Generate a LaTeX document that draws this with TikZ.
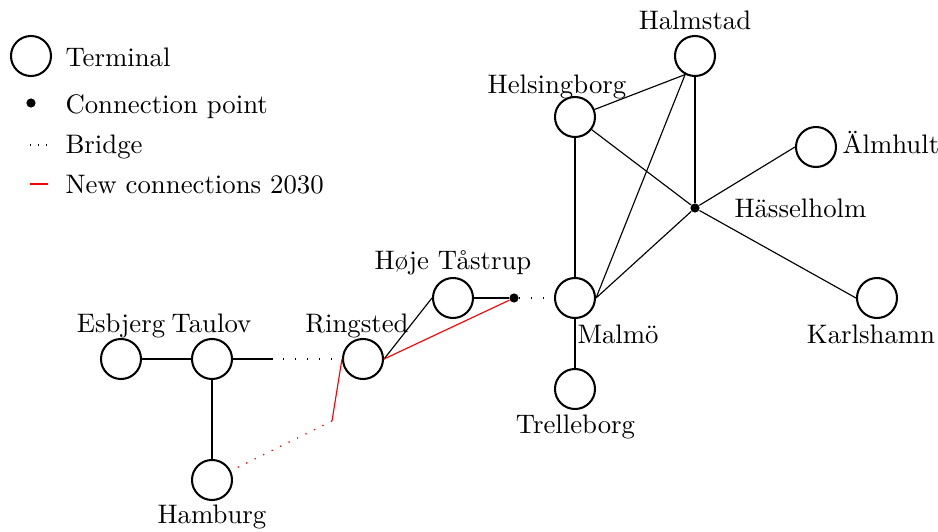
\documentclass[tikz,border=0pt]{standalone}
\usetikzlibrary{calc}
\begin{document}
\begin{tikzpicture}[x=0.3922pt,y=-0.3922pt,
  terminal/.style={circle,draw,line width=0.8pt,minimum size=15.7pt,inner sep=0pt},
  cpoint/.style={circle,fill,inner sep=0pt,minimum size=3.6pt},
  lbl/.style={anchor=base,inner sep=0pt,font=\fontsize{10.5pt}{12.6pt}\selectfont},
  lblw/.style={anchor=base west,inner sep=0pt,font=\fontsize{10.5pt}{12.6pt}\selectfont},
  conn/.style={line width=0.45pt},
  bridge/.style={line width=0.5pt,dash pattern=on 0.5pt off 4.2pt},
  rbridge/.style={line width=0.5pt,red,dash pattern=on 0.5pt off 3.2pt},
  newc/.style={line width=0.45pt,red}]
\useasboundingbox (0,0) rectangle (938,532);
% legend
\node[terminal] (lt) at (31,56) {};
\node[lblw] (ltt) at (65,66) {Terminal};
\node[cpoint] (lc) at (31,103) {};
\node[lblw] (lct) at (65,113) {Connection point};
\coordinate (lb1) at (30,145);
\coordinate (lb2) at (48,145);
\draw[bridge,dash pattern=on 0.5pt off 2.6pt] (lb1) -- (lb2);
\node[lblw] (lbt) at (65,153) {Bridge};
\coordinate (ln1) at (30,184);
\coordinate (ln2) at (48,184);
\draw[newc] (ln1) -- (ln2);
\node[lblw] (lnt) at (65,193) {New connections 2030};
% nodes
\node[terminal] (esb) at (121,359) {};
\node[terminal] (tau) at (212,359) {};
\node[terminal] (rin) at (363,359) {};
\node[terminal] (ham) at (212,480) {};
\node[terminal] (hoj) at (453,298) {};
\node[cpoint] (cp) at (514,298) {};
\node[terminal] (mal) at (575,298) {};
\node[terminal] (tre) at (575,389) {};
\node[terminal] (hel) at (575,117) {};
\node[terminal] (hal) at (695,56) {};
\node[cpoint] (has) at (695,208) {};
\node[terminal] (alm) at (816,147) {};
\node[terminal] (kar) at (877,298) {};
% labels
\node[lbl] at (121,332) {Esbjerg};
\node[lbl] at (211.5,332) {Taulov};
\node[lbl] at (357,332) {Ringsted};
\node[lbl] at (212,523) {Hamburg};
\node[lbl] at (453,269) {Høje Tåstrup};
\node[lblw] at (577,343) {Malmö};
\node[lbl] at (575.5,433) {Trelleborg};
\node[lbl] at (557,93) {Helsingborg};
\node[lbl] at (695,29) {Halmstad};
\node[lblw] at (842,153) {Älmhult};
\node[lblw] at (734,217) {Hässelholm};
\node[lbl] at (871,343) {Karlshamn};
% connections
\draw[conn] (esb) -- (tau);
\draw[conn] (tau) -- (ham);
\coordinate (tr) at (273,359);
\coordinate (tb) at (283,359);
\draw[conn] (tau) -- (tr);
\draw[bridge] (tb) -- (rin);
\draw[conn] (rin.east) -- (hoj.west);
\draw[conn] (hoj) -- (cp);
\draw[bridge] (cp) -- (mal);
\draw[newc] (rin.east) -- (cp);
\coordinate (hr) at (332,421);
\draw[newc] (rin.west) -- (hr);
\draw[rbridge] (hr) -- (ham);
\draw[conn] (mal) -- (tre);
\draw[conn] (mal) -- (hel);
\draw[conn] (mal.east) -- (hal.242);
\draw[conn] (mal.east) -- (has);
\draw[conn] (hel) -- (hal.242);
\draw[conn] (hel) -- (has);
\draw[conn] (hal) -- (has);
\draw[conn] (has) -- (alm.west);
\draw[conn] (has) -- (kar.west);
\end{tikzpicture}
\end{document}
